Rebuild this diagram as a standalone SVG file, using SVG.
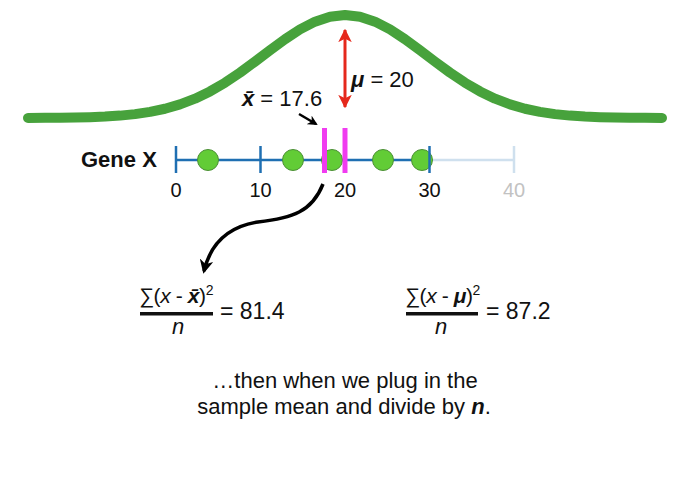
<svg xmlns="http://www.w3.org/2000/svg" width="698" height="480" viewBox="0 0 698 480">
<style>
text{font-family:"Liberation Sans",Arial,"DejaVu Sans",sans-serif;fill:#111}
.t{font-size:22px}
.num{font-size:20px;text-anchor:middle}
.bi{font-weight:bold;font-style:italic}
.it{font-style:italic}
.tick{stroke:#1f6fb2;stroke-width:2.5}
.dot{fill:#62cc36;stroke:#4b8f35;stroke-width:1}
.pink{stroke:#f03cf0;stroke-width:5}
.numer{font-size:21px;letter-spacing:-0.4px}
</style>
<defs>
<marker id="ah-red" viewBox="0 0 10 10" refX="9" refY="5" markerWidth="4.5" markerHeight="4.5" orient="auto-start-reverse" markerUnits="strokeWidth">
<path d="M0,0 L10,5 L0,10 L2.5,5 z" fill="#e5281c"/>
</marker>
<marker id="ah-blk" viewBox="0 0 10 10" refX="8" refY="5" markerWidth="4" markerHeight="4" orient="auto" markerUnits="strokeWidth">
<path d="M0,0 L10,5 L0,10 L3,5 z" fill="#000"/>
</marker>
</defs>
<rect width="698" height="480" fill="#fff"/>

<g id="bell-curve">
<path d="M28,118 L45,117.87 L60,117.75 L75,117.54 L90,117.18 L105,116.58 L120,115.61 L135,114.12 L150,111.9 L165,108.74 L180,104.39 L195,98.67 L210,91.44 L225,82.7 L240,72.63 L255,61.61 L270,50.21 L285,39.2 L300,29.4 L315,21.67 L330,16.71 L345,15 L360,16.71 L375,21.67 L390,29.4 L405,39.2 L420,50.21 L435,61.61 L450,72.63 L465,82.7 L480,91.44 L495,98.67 L510,104.39 L525,108.74 L540,111.9 L555,114.12 L570,115.61 L585,116.58 L600,117.18 L615,117.54 L630,117.75 L645,117.87 L662,118" fill="none" stroke="#47a23c" stroke-width="10" stroke-linecap="round" stroke-linejoin="round"/>
</g>

<g id="mu-label">
<text class="t" x="351" y="87"><tspan class="bi">μ</tspan> = 20</text>
</g>
<g id="xbar-label">
<text class="t" x="242" y="106"><tspan class="bi">x̄</tspan> = 17.6</text>
</g>

<g id="gene-label">
<text x="81" y="167" style="font-size:22px;font-weight:bold">Gene X</text>
</g>

<g id="axis">
<line x1="176" y1="160" x2="429.5" y2="160" stroke="#1f6fb2" stroke-width="2.5"/>
<line x1="429.5" y1="160" x2="514" y2="160" stroke="#cfe0ee" stroke-width="2.5"/>
<line class="tick" x1="176" y1="146" x2="176" y2="173"/>
<line class="tick" x1="260.5" y1="146" x2="260.5" y2="173"/>
<line x1="514" y1="146" x2="514" y2="173" stroke="#cfe0ee" stroke-width="2.5"/>
<text class="num" x="176" y="197">0</text>
<text class="num" x="260.5" y="197">10</text>
<text class="num" x="345" y="197">20</text>
<text class="num" x="429.5" y="197">30</text>
<text class="num" x="514" y="197" style="fill:#c2c2c2">40</text>
</g>

<g id="data-points">
<circle class="dot" cx="208" cy="160" r="10.5"/>
<circle class="dot" cx="293" cy="160" r="10.5"/>
<circle class="dot" cx="332" cy="160" r="10.5"/>
<circle class="dot" cx="383" cy="160" r="10.5"/>
<circle class="dot" cx="422" cy="160" r="10.5"/>
<line class="tick" x1="429.5" y1="146" x2="429.5" y2="173"/>
</g>

<g id="mean-markers">
<line class="pink" x1="324.5" y1="128" x2="324.5" y2="173"/>
<line class="pink" x1="345" y1="128" x2="345" y2="173"/>
</g>

<g id="connectors">
<line x1="345" y1="30" x2="345" y2="107" stroke="#e5281c" stroke-width="3" marker-start="url(#ah-red)" marker-end="url(#ah-red)"/>
<line x1="299" y1="114" x2="316" y2="124" stroke="#000" stroke-width="2.5" marker-end="url(#ah-blk)"/>
<path d="M323,184 C312,212 292,218 258,222 C226,227 210,246 204,271" fill="none" stroke="#000" stroke-width="3.5" marker-end="url(#ah-blk)"/>
</g>

<g id="formula-sample">
<text class="numer" x="139" y="303">∑(<tspan class="it">x</tspan> - <tspan class="bi">x̄</tspan>)<tspan dy="-8" style="font-size:14px">2</tspan></text>
<rect x="140" y="312" width="73" height="3.5" fill="#111"/>
<text x="178" y="334" style="font-size:22px;text-anchor:middle" class="it">n</text>
<text x="220" y="319" style="font-size:23px">= 81.4</text>
</g>

<g id="formula-population">
<text class="numer" x="405" y="303">∑(<tspan class="it">x</tspan> - <tspan class="bi">μ</tspan>)<tspan dy="-8" style="font-size:14px">2</tspan></text>
<rect x="406" y="312" width="72" height="3.5" fill="#111"/>
<text x="441" y="334" style="font-size:22px;text-anchor:middle" class="it">n</text>
<text x="486" y="319" style="font-size:23px">= 87.2</text>
</g>

<g id="caption">
<text x="345" y="388" style="font-size:22px;text-anchor:middle">…then when we plug in the</text>
<text x="344" y="414" style="font-size:22px;text-anchor:middle">sample mean and divide by <tspan class="bi">n</tspan>.</text>
</g>
</svg>
